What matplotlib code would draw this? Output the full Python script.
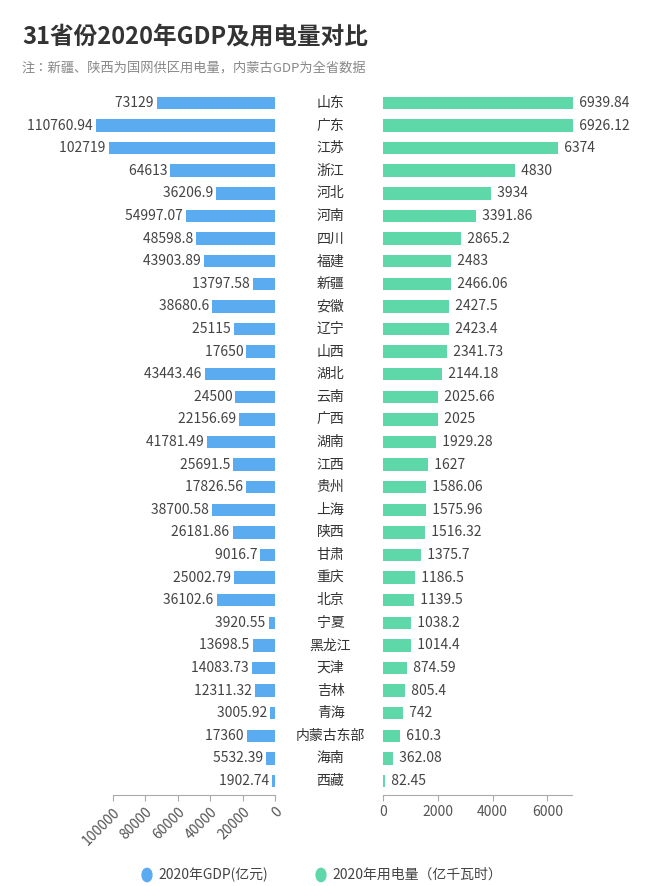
import matplotlib
matplotlib.use("Agg")
import matplotlib.pyplot as plt
from matplotlib import font_manager as fm
import glob

cjk = None
for pat in ["/usr/share/fonts/**/*CJK*", "/usr/share/fonts/**/*cjk*", "/usr/local/share/fonts/**/*CJK*", "/root/.fonts/**/*CJK*"]:
    for f in sorted(glob.glob(pat, recursive=True)):
        if f.lower().endswith((".ttc", ".otf", ".ttf")):
            try:
                fm.fontManager.addfont(f)
            except Exception:
                pass
names = [f.name for f in fm.fontManager.ttflist if "CJK" in f.name]
for pref in ["Noto Sans CJK SC", "Noto Sans CJK JP", "Noto Sans CJK TC", "Noto Sans CJK KR"]:
    if pref in names:
        cjk = pref
        break
if cjk is None and names:
    cjk = names[0]
plt.rcParams["font.family"] = [cjk] if cjk else ["DejaVu Sans"]

provinces = ["山东","广东","江苏","浙江","河北","河南","四川","福建","新疆","安徽","辽宁","山西","湖北","云南","广西","湖南","江西","贵州","上海","陕西","甘肃","重庆","北京","宁夏","黑龙江","天津","吉林","青海","内蒙古东部","海南","西藏"]
gdp = [73129,110760.94,102719,64613,36206.9,54997.07,48598.8,43903.89,13797.58,38680.6,25115,17650,43443.46,24500,22156.69,41781.49,25691.5,17826.56,38700.58,26181.86,9016.7,25002.79,36102.6,3920.55,13698.5,14083.73,12311.32,3005.92,17360,5532.39,1902.74]
gdp_lbl = ["73129","110760.94","102719","64613","36206.9","54997.07","48598.8","43903.89","13797.58","38680.6","25115","17650","43443.46","24500","22156.69","41781.49","25691.5","17826.56","38700.58","26181.86","9016.7","25002.79","36102.6","3920.55","13698.5","14083.73","12311.32","3005.92","17360","5532.39","1902.74"]
elec = [6939.84,6926.12,6374,4830,3934,3391.86,2865.2,2483,2466.06,2427.5,2423.4,2341.73,2144.18,2025.66,2025,1929.28,1627,1586.06,1575.96,1516.32,1375.7,1186.5,1139.5,1038.2,1014.4,874.59,805.4,742,610.3,362.08,82.45]
elec_lbl = ["6939.84","6926.12","6374","4830","3934","3391.86","2865.2","2483","2466.06","2427.5","2423.4","2341.73","2144.18","2025.66","2025","1929.28","1627","1586.06","1575.96","1516.32","1375.7","1186.5","1139.5","1038.2","1014.4","874.59","805.4","742","610.3","362.08","82.45"]
gdp_ticks = [100000, 80000, 60000, 40000, 20000, 0]
elec_ticks = [0, 2000, 4000, 6000]

BLUE = "#5aabef"
GREEN = "#5ed8a9"
W, H = 660, 886
fig = plt.figure(figsize=(6.6, 8.86), dpi=100)

bot = (886 - 794.6) / H
hgt = 703 / H
axL = fig.add_axes([113 / W, bot, (275 - 113) / W, hgt])
axR = fig.add_axes([383 / W, bot, (572 - 383) / W, hgt])
ys = list(range(len(provinces)))

axL.barh(ys, gdp, height=0.55, color=BLUE, clip_on=False)
axL.set_xlim(100000, 0)
axR.barh(ys, elec, height=0.55, color=GREEN, clip_on=False)
axR.set_xlim(0, 6900)
for ax in (axL, axR):
    ax.set_ylim(30.6, -0.5)
    ax.set_yticks([])
    for s in ("top", "left", "right"):
        ax.spines[s].set_visible(False)
    ax.spines["bottom"].set_color("#aaaaaa")
    ax.tick_params(axis="x", colors="#aaaaaa", labelcolor="#555555", labelsize=10, length=4)
axL.set_xticks(gdp_ticks)
axL.set_xticklabels([str(t) for t in gdp_ticks], rotation=45, ha="right", rotation_mode="anchor")
axR.set_xticks(elec_ticks)
axR.set_xticklabels([str(t) for t in elec_ticks])

for y, v, l in zip(ys, gdp, gdp_lbl):
    axL.text(v, y, l + " ", ha="right", va="center", fontsize=10, color="#444444", clip_on=False)
for y, v, l in zip(ys, elec, elec_lbl):
    axR.text(v, y, "  " + l, ha="left", va="center", fontsize=10, color="#444444", clip_on=False)
for y, p in zip(ys, provinces):
    axL.annotate(p, xy=(0, y), xycoords="data", xytext=(40, 0), textcoords="offset points",
                 ha="center", va="center", fontsize=10, color="#333333", annotation_clip=False)

fig.text(22 / W, 1 - 37 / H, "31省份2020年GDP及用电量对比", fontsize=17, fontweight="bold", color="#333333", va="center")
fig.text(22 / W, 1 - 68 / H, "注：新疆、陕西为国网供区用电量，内蒙古GDP为全省数据", fontsize=9.5, color="#888888", va="center")

ly = 1 - 875 / H
fig.patches.append(plt.Circle((147 / W, ly), 0.0075, transform=fig.transFigure, color=BLUE, figure=fig))
fig.text(158 / W, ly, "2020年GDP(亿元)", fontsize=10, color="#444444", va="center")
fig.patches.append(plt.Circle((321 / W, ly), 0.0075, transform=fig.transFigure, color=GREEN, figure=fig))
fig.text(332 / W, ly, "2020年用电量（亿千瓦时）", fontsize=10, color="#444444", va="center")

fig.savefig("out.png", dpi=100)
